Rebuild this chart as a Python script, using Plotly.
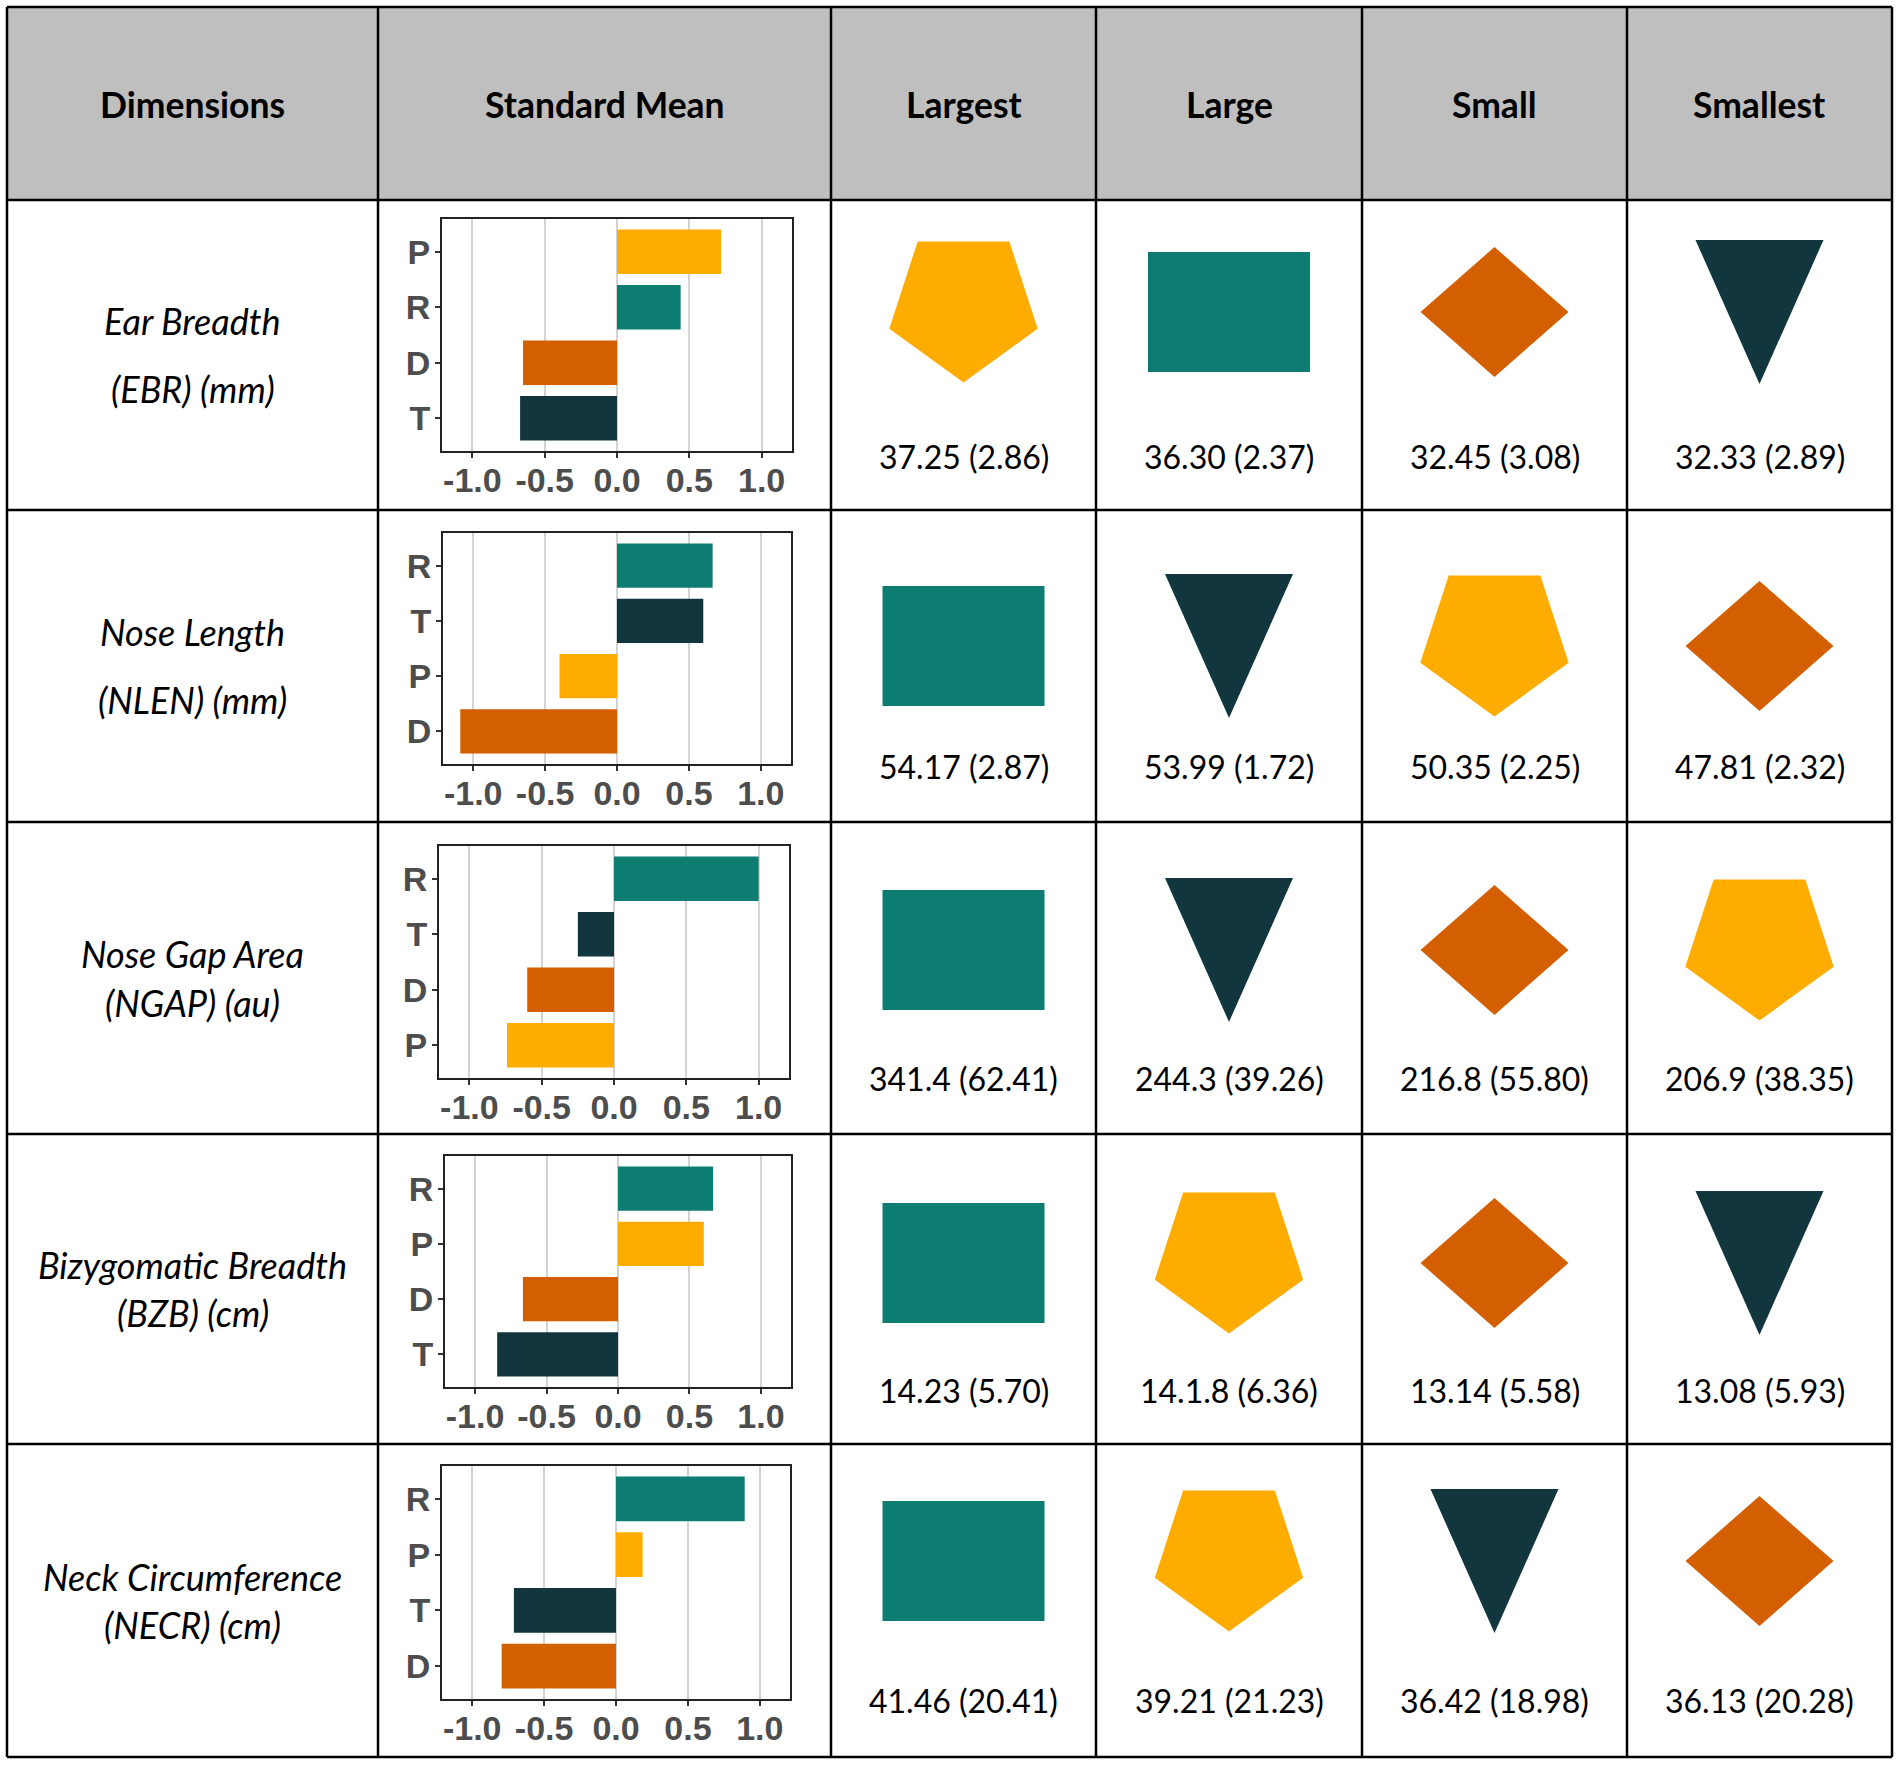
import math
import plotly.graph_objects as go

# groups and their colours / glyphs
groups = ["P", "R", "D", "T"]
group_colors = {"P": "#FFAC00", "R": "#0D7D72", "D": "#D45F00", "T": "#11363D"}
group_glyph = {"P": "pentagon", "R": "rect", "D": "diamond", "T": "triangle"}

header = ["Dimensions", "Standard Mean", "Largest", "Large", "Small", "Smallest"]
dim_names = ["Ear Breadth", "Nose Length", "Nose Gap Area",
             "Bizygomatic Breadth", "Neck Circumference"]
dim_units = ["(EBR) (mm)", "(NLEN) (mm)", "(NGAP) (au)", "(BZB) (cm)", "(NECR) (cm)"]

# standard mean per group, order P, R, D, T
sm_ebr = [0.72, 0.44, -0.65, -0.67]
sm_nlen = [-0.40, 0.665, -1.09, 0.60]
sm_ngap = [-0.74, 1.00, -0.60, -0.25]
sm_bzb = [0.60, 0.665, -0.665, -0.845]
sm_necr = [0.185, 0.895, -0.795, -0.71]
std_means = [sm_ebr, sm_nlen, sm_ngap, sm_bzb, sm_necr]

# mean (sd) from largest to smallest
stats_ebr = ["37.25 (2.86)", "36.30 (2.37)", "32.45 (3.08)", "32.33 (2.89)"]
stats_nlen = ["54.17 (2.87)", "53.99 (1.72)", "50.35 (2.25)", "47.81 (2.32)"]
stats_ngap = ["341.4 (62.41)", "244.3 (39.26)", "216.8 (55.80)", "206.9 (38.35)"]
stats_bzb = ["14.23 (5.70)", "14.1.8 (6.36)", "13.14 (5.58)", "13.08 (5.93)"]
stats_necr = ["41.46 (20.41)", "39.21 (21.23)", "36.42 (18.98)", "36.13 (20.28)"]
stats = [stats_ebr, stats_nlen, stats_ngap, stats_bzb, stats_necr]

x_tickvals = [-1.0, -0.5, 0.0, 0.5, 1.0]
x_ticktext = ["-1.0", "-0.5", "0.0", "0.5", "1.0"]

# ---- layout geometry (pixels) ----
W, H = 1901, 1766
col_x = [7, 378, 831, 1096, 1362, 1627, 1892]
row_y = [7, 200, 510, 822, 1134, 1444, 1757]
chart_l = [442, 443, 439, 445, 442]
chart_r = [792, 791, 789, 791, 790]
chart_t = [219, 533, 846, 1156, 1466]
chart_b = [451, 764, 1078, 1387, 1699]
glyph_cy = [312, 646, 950, 1263, 1561]
name_gap = [34, 34, 24.5, 24, 24]

TXT_FONT = "Lato"
TICK_FONT = dict(family="Liberation Sans, Arial", size=34, color="#4D4D4D", weight="bold")


def glyph_path(kind, cx, cy):
    if kind == "pentagon":
        r = 78
        off = -0.0955 * r
        pts = [(cx + r * math.cos(math.radians(a)), cy + off + r * math.sin(math.radians(a)))
               for a in (90, 162, 234, 306, 18)]
    elif kind == "rect":
        pts = [(cx - 81, cy - 60), (cx + 81, cy - 60), (cx + 81, cy + 60), (cx - 81, cy + 60)]
    elif kind == "diamond":
        pts = [(cx, cy - 65), (cx + 74, cy), (cx, cy + 65), (cx - 74, cy)]
    else:
        pts = [(cx - 64, cy - 72), (cx + 64, cy - 72), (cx, cy + 72)]
    pts.append(pts[0])
    return [p[0] for p in pts], [p[1] for p in pts]


fig = go.Figure()
annotations = []
shapes = []

# header background
shapes.append(dict(type="rect", xref="x", yref="y", x0=col_x[0], x1=col_x[-1],
                   y0=row_y[0], y1=row_y[1], fillcolor="#BFBFBF", line_width=0, layer="below"))
for i, h in enumerate(header):
    annotations.append(dict(x=(col_x[i] + col_x[i + 1]) / 2, y=104, xref="x", yref="y",
                            text="<b>%s</b>" % h, showarrow=False,
                            font=dict(family=TXT_FONT, size=35.5, color="black")))

for r in range(5):
    top, bot = row_y[r + 1], row_y[r + 2]
    mid = (top + bot) / 2
    annotations.append(dict(x=(col_x[0] + col_x[1]) / 2, y=mid - name_gap[r], xref="x", yref="y",
                            text="<i>%s</i>" % dim_names[r], showarrow=False,
                            font=dict(family=TXT_FONT, size=36, color="black")))
    annotations.append(dict(x=(col_x[0] + col_x[1]) / 2, y=mid + name_gap[r], xref="x", yref="y",
                            text="<i>%s</i>" % dim_units[r], showarrow=False,
                            font=dict(family=TXT_FONT, size=36, color="black")))

    vals = dict(zip(groups, std_means[r]))
    order = sorted(groups, key=lambda g: -vals[g])

    # ranked glyphs + mean (sd)
    for k, g in enumerate(order):
        cx = (col_x[k + 2] + col_x[k + 3]) / 2
        gx, gy = glyph_path(group_glyph[g], cx, glyph_cy[r])
        fig.add_trace(go.Scatter(x=gx, y=gy, mode="lines", fill="toself",
                                 fillcolor=group_colors[g], line=dict(width=0),
                                 hoverinfo="skip", showlegend=False, xaxis="x", yaxis="y"))
        annotations.append(dict(x=cx, y=top + 256, xref="x", yref="y", text=stats[r][k],
                                showarrow=False, font=dict(family=TXT_FONT, size=32, color="black")))

    # standard mean bar chart
    ax = str(r + 2)
    fig.add_trace(go.Bar(x=[vals[g] for g in order], y=order, orientation="h", width=0.8,
                         marker=dict(color=[group_colors[g] for g in order], line_width=0),
                         showlegend=False, xaxis="x" + ax, yaxis="y" + ax))
    fig.layout["xaxis" + ax] = dict(
        domain=[chart_l[r] / W, chart_r[r] / W], anchor="y" + ax, range=[-1.21, 1.21],
        tickvals=x_tickvals, ticktext=x_ticktext, tickfont=TICK_FONT, ticklabelstandoff=-7,
        showgrid=True, gridcolor="#D3D3D3", gridwidth=1.5, zeroline=False,
        showline=True, mirror=True, linecolor="#222222", linewidth=2,
        ticks="outside", ticklen=5, tickwidth=2, tickcolor="#333333", fixedrange=True)
    fig.layout["yaxis" + ax] = dict(
        domain=[1 - chart_b[r] / H, 1 - chart_t[r] / H], anchor="x" + ax,
        type="category", categoryorder="array", categoryarray=order, range=[3.59, -0.59],
        tickfont=TICK_FONT, ticklabelstandoff=-2, showgrid=False, zeroline=False,
        showline=True, mirror=True, linecolor="#222222", linewidth=2,
        ticks="outside", ticklen=5, tickwidth=2, tickcolor="#333333", fixedrange=True)

# table grid lines
for x in col_x:
    shapes.append(dict(type="line", xref="x", yref="y", x0=x, x1=x, y0=row_y[0], y1=row_y[-1],
                       line=dict(color="black", width=2.5)))
for y in row_y:
    shapes.append(dict(type="line", xref="x", yref="y", x0=col_x[0], x1=col_x[-1], y0=y, y1=y,
                       line=dict(color="black", width=2.5)))

fig.update_layout(
    width=W, height=H, margin=dict(l=0, r=0, t=0, b=0),
    paper_bgcolor="white", plot_bgcolor="white",
    xaxis=dict(domain=[0, 1], range=[0, W], visible=False, fixedrange=True),
    yaxis=dict(domain=[0, 1], range=[H, 0], visible=False, fixedrange=True),
    shapes=shapes, annotations=annotations, bargap=0.2,
)

fig.write_html("out.html", config={"displayModeBar": False},
               post_script="document.body.style.margin='0';document.body.style.overflow='hidden';")
